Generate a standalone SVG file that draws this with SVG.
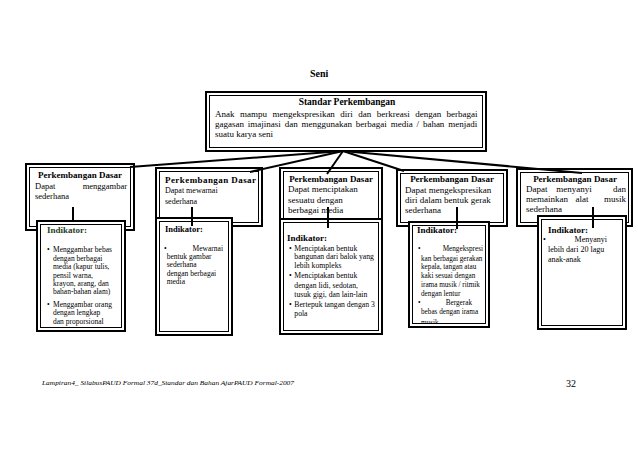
<svg xmlns="http://www.w3.org/2000/svg" width="638" height="451" viewBox="0 0 638 451">
<style>
text{font-family:"Liberation Serif","Times New Roman",serif;fill:#000}
.o{fill:#fff;stroke:#000;stroke-width:2}
.i{fill:none;stroke:#000;stroke-width:1}
.t{font-weight:bold;font-size:9px}
.b{font-size:9px}
.m{font-size:8.5px}
.n{font-size:8px}
.r{font-size:7.7px}
.s{font-size:7.5px}
.x{font-size:7.2px}
.k{font-weight:bold;font-size:9px}
.c{stroke:#000;stroke-width:2;fill:none}
</style>
<defs>
<clipPath id="clip4"><rect x="412" y="225" width="74" height="98"/></clipPath>
</defs>
<rect width="638" height="451" fill="#fff"/>

<text x="310" y="77" style="font-weight:bold;font-size:10px">Seni</text>

<g id="standar">
<rect class="o" x="206" y="92" width="280" height="59"/>
<rect class="i" x="209.5" y="95.5" width="273" height="52"/>
<text x="347" y="105" text-anchor="middle" style="font-weight:bold;font-size:9.5px">Standar Perkembangan</text>
<text class="b" x="215" y="116.7" style="word-spacing:3.2px">Anak mampu mengekspresikan diri dan berkreasi dengan berbagai</text>
<text class="b" x="215" y="126.7" style="word-spacing:1.6px">gagasan imajinasi dan menggunakan berbagai media / bahan menjadi</text>
<text class="b" x="215" y="136.7">suatu karya seni</text>
</g>

<g id="pd1">
<rect class="o" x="26" y="164" width="108" height="66"/>
<rect class="i" x="29.5" y="167.5" width="101" height="59"/>
<text class="t" x="38" y="177.7" textLength="84" lengthAdjust="spacing">Perkembangan Dasar</text>
<text class="m" x="35" y="189">Dapat</text>
<text class="m" x="127" y="189" text-anchor="end">menggambar</text>
<text class="m" x="35" y="198.7">sederhana</text>
</g>
<g id="ind1">
<rect class="o" x="37" y="221" width="88" height="110"/>
<rect class="i" x="40.5" y="224.5" width="81" height="103"/>
<text x="47" y="232.7" style="font-weight:bold;font-size:9px;fill:#1e3d1e">Indikator:</text>
<text class="s" x="47" y="252.3">•</text>
<text class="s" x="53" y="252.3">Menggambar bebas</text>
<text class="s" x="53" y="260.7">dengan berbagai</text>
<text class="s" x="53" y="269">media (kapur tulis,</text>
<text class="s" x="53" y="277.7">pensil warna,</text>
<text class="s" x="53" y="286">krayon, arang, dan</text>
<text class="s" x="53" y="294.3">bahan-bahan alam)</text>
<text class="s" x="47" y="306.7">•</text>
<text class="s" x="53" y="306.7">Menggambar orang</text>
<text class="s" x="53" y="315">dengan lengkap</text>
<text class="s" x="53" y="324">dan proporsional</text>
</g>

<g id="pd2">
<rect class="o" x="156" y="168" width="106" height="58"/>
<rect class="i" x="159.5" y="171.5" width="99" height="51"/>
<text class="t" x="165" y="182.7" textLength="91" lengthAdjust="spacing">Perkembangan Dasar</text>
<text class="n" x="165" y="193">Dapat mewarnai</text>
<text class="n" x="165" y="204">sederhana</text>
</g>
<g id="ind2">
<rect class="o" x="156" y="218" width="76" height="117"/>
<rect class="i" x="159.5" y="221.5" width="69" height="110"/>
<text x="165" y="231.7" style="font-weight:bold;font-size:8.5px">Indikator:</text>
<text class="s" x="164" y="250.7">•</text>
<text class="s" x="223" y="250.7" text-anchor="end">Mewarnai</text>
<text class="s" x="166.7" y="259">bentuk gambar</text>
<text class="s" x="166.7" y="267.3">sederhana</text>
<text class="s" x="166.7" y="275.7">dengan berbagai</text>
<text class="s" x="166.7" y="284">media</text>
</g>

<g id="pd3">
<rect class="o" x="280" y="168" width="102" height="54"/>
<rect class="i" x="283.5" y="171.5" width="95" height="47"/>
<text class="t" x="331" y="182.3" text-anchor="middle">Perkembangan Dasar</text>
<text class="b" x="288" y="192.3">Dapat menciptakan</text>
<text class="b" x="288" y="203.3">sesuatu dengan</text>
<text class="b" x="288" y="213.3">berbagai media</text>
</g>
<g id="ind3">
<rect class="o" x="280" y="219" width="102" height="115"/>
<rect class="i" x="283.5" y="222.5" width="95" height="108"/>
<text class="k" x="287" y="241.3">Indikator:</text>
<text class="r" x="289" y="251">•</text>
<text class="r" x="294.3" y="251">Menciptakan  bentuk</text>
<text class="r" x="294.3" y="259.3">bangunan dari balok yang</text>
<text class="r" x="294.3" y="268.3">lebih kompleks</text>
<text class="r" x="289" y="277.7">•</text>
<text class="r" x="294.3" y="277.7">Menciptakan bentuk</text>
<text class="r" x="294.3" y="287.7">dengan lidi, sedotan,</text>
<text class="r" x="294.3" y="296.7">tusuk gigi, dan lain-lain</text>
<text class="r" x="289" y="306.7">•</text>
<text class="r" x="294.3" y="306.7">Bertepuk tangan dengan 3</text>
<text class="r" x="294.3" y="315.7">pola</text>
</g>

<g id="pd4">
<rect class="o" x="397" y="170" width="110" height="56"/>
<rect class="i" x="400.5" y="173.5" width="103" height="49"/>
<text class="t" x="452" y="181.7" text-anchor="middle">Perkembangan Dasar</text>
<text class="b" x="405" y="192.7">Dapat mengekspresikan</text>
<text class="b" x="405" y="203.3">diri dalam bentuk gerak</text>
<text class="b" x="405" y="213.3">sederhana</text>
</g>
<g id="ind4">
<rect class="o" x="409" y="222" width="80" height="105"/>
<rect class="i" x="412.5" y="225.5" width="73" height="98"/>
<text class="k" x="417" y="233">Indikator:</text>
<text class="x" x="418" y="251">•</text>
<text class="x" x="483" y="251" text-anchor="end">Mengekspresi</text>
<text class="x" x="421" y="260.7">kan berbagai gerakan</text>
<text class="x" x="421" y="269">kepala, tangan atau</text>
<text class="x" x="421" y="277.7">kaki sesuai dengan</text>
<text class="x" x="421" y="286.7">irama musik / ritmik</text>
<text class="x" x="421" y="296">dengan lentur</text>
<text class="x" x="418" y="305">•</text>
<text class="x" x="472" y="305" text-anchor="end">Bergerak</text>
<text class="x" x="421" y="314.3">bebas dengan irama</text>
<text class="x" x="421" y="324.5" clip-path="url(#clip4)">musik</text>
</g>

<g id="pd5">
<rect class="o" x="517" y="169" width="115" height="57"/>
<rect class="i" x="520.5" y="172.5" width="108" height="50"/>
<text class="t" x="575" y="181.7" text-anchor="middle">Perkembangan Dasar</text>
<text class="b" x="526" y="192.3">Dapat</text>
<text class="b" x="574" y="192.3" text-anchor="middle">menyanyi</text>
<text class="b" x="626" y="192.3" text-anchor="end">dan</text>
<text class="b" x="526" y="202.3">memainkan</text>
<text class="b" x="582" y="202.3" text-anchor="middle">alat</text>
<text class="b" x="626" y="202.3" text-anchor="end">musik</text>
<text class="b" x="526" y="212.3">sederhana</text>
</g>
<g id="ind5">
<rect class="o" x="538" y="216" width="88" height="113"/>
<rect class="i" x="541.5" y="219.5" width="81" height="106"/>
<text class="k" x="548" y="232.7">Indikator:</text>
<text class="n" x="543" y="242">•</text>
<text class="n" x="607" y="242" text-anchor="end">Menyanyi</text>
<text class="n" x="548" y="251.7">lebih dari 20 lagu</text>
<text class="n" x="548" y="261.7">anak-anak</text>
</g>

<g id="connectors">
<path class="c" d="M343 151 L130 167"/>
<path class="c" d="M343 151 L250 172"/>
<path class="c" d="M343 151 L327 174"/>
<path class="c" d="M343 151 L404 171"/>
<path class="c" d="M343 151 L582 173"/>
<path class="c" d="M73 207 V221"/>
<path class="c" d="M192 207 V226"/>
<path class="c" d="M328 207 V228"/>
<path class="c" d="M457 207 V229"/>
<path class="c" d="M593 207 V228"/>
</g>

<text x="42" y="385" textLength="252" lengthAdjust="spacingAndGlyphs" style="font-style:italic;font-size:7px">Lampiran4_ SilabusPAUD Formal 37d_Standar dan Bahan AjarPAUD Formal-2007</text>
<text x="566" y="387" style="font-size:10px">32</text>
</svg>
